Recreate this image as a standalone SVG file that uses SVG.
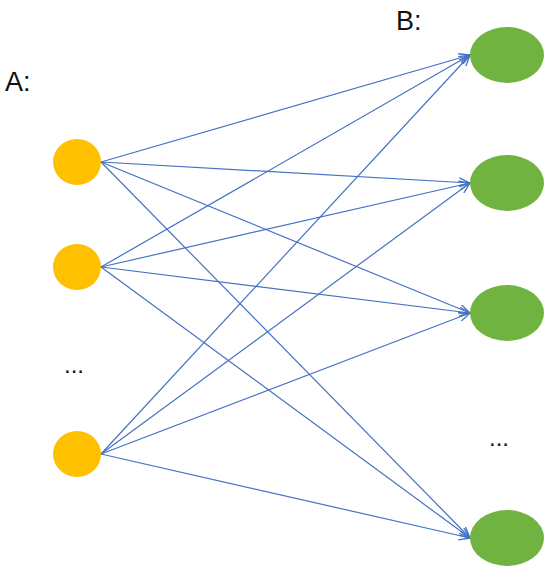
<svg xmlns="http://www.w3.org/2000/svg" width="550" height="574" viewBox="0 0 550 574">
<style>
.a{fill:#FFC000}
.b{fill:#70B340}
.e{stroke:#4472C4;stroke-width:1.2;fill:none;marker-end:url(#arr)}
.t{font-family:"Liberation Sans",Arial,sans-serif;fill:#111}
</style>
<defs>
<marker id="arr" viewBox="0 0 12 10" refX="11" refY="5" markerWidth="12" markerHeight="10" markerUnits="userSpaceOnUse" orient="auto">
<path d="M0,0.5 L11,5 L0,9.5" fill="none" stroke="#4472C4" stroke-width="1.3"/>
</marker>
</defs>
<rect width="550" height="574" fill="#fff"/>
<text class="t" x="5" y="91" font-size="27">A:</text>
<text class="t" x="396" y="30" font-size="27">B:</text>
<text class="t" x="64" y="373" font-size="24">...</text>
<text class="t" x="489" y="446" font-size="24">...</text>
<g id="connectors">
<line class="e" x1="101" y1="162" x2="470" y2="55"/>
<line class="e" x1="101" y1="162" x2="470" y2="183"/>
<line class="e" x1="101" y1="162" x2="470" y2="313"/>
<line class="e" x1="101" y1="162" x2="470" y2="538"/>
<line class="e" x1="101" y1="267" x2="470" y2="55"/>
<line class="e" x1="101" y1="267" x2="470" y2="183"/>
<line class="e" x1="101" y1="267" x2="470" y2="313"/>
<line class="e" x1="101" y1="267" x2="470" y2="538"/>
<line class="e" x1="101" y1="454" x2="470" y2="55"/>
<line class="e" x1="101" y1="454" x2="470" y2="183"/>
<line class="e" x1="101" y1="454" x2="470" y2="313"/>
<line class="e" x1="101" y1="454" x2="470" y2="538"/>
</g>
<g id="a1"><ellipse class="a" cx="77" cy="162" rx="24" ry="23"/></g>
<g id="a2"><ellipse class="a" cx="77" cy="267" rx="24" ry="23"/></g>
<g id="a3"><ellipse class="a" cx="77" cy="454" rx="24" ry="23"/></g>
<g id="b1"><ellipse class="b" cx="507" cy="55" rx="37" ry="28"/></g>
<g id="b2"><ellipse class="b" cx="507" cy="183" rx="37" ry="28"/></g>
<g id="b3"><ellipse class="b" cx="507" cy="313" rx="37" ry="28"/></g>
<g id="b4"><ellipse class="b" cx="507" cy="538" rx="37" ry="28"/></g>
</svg>
